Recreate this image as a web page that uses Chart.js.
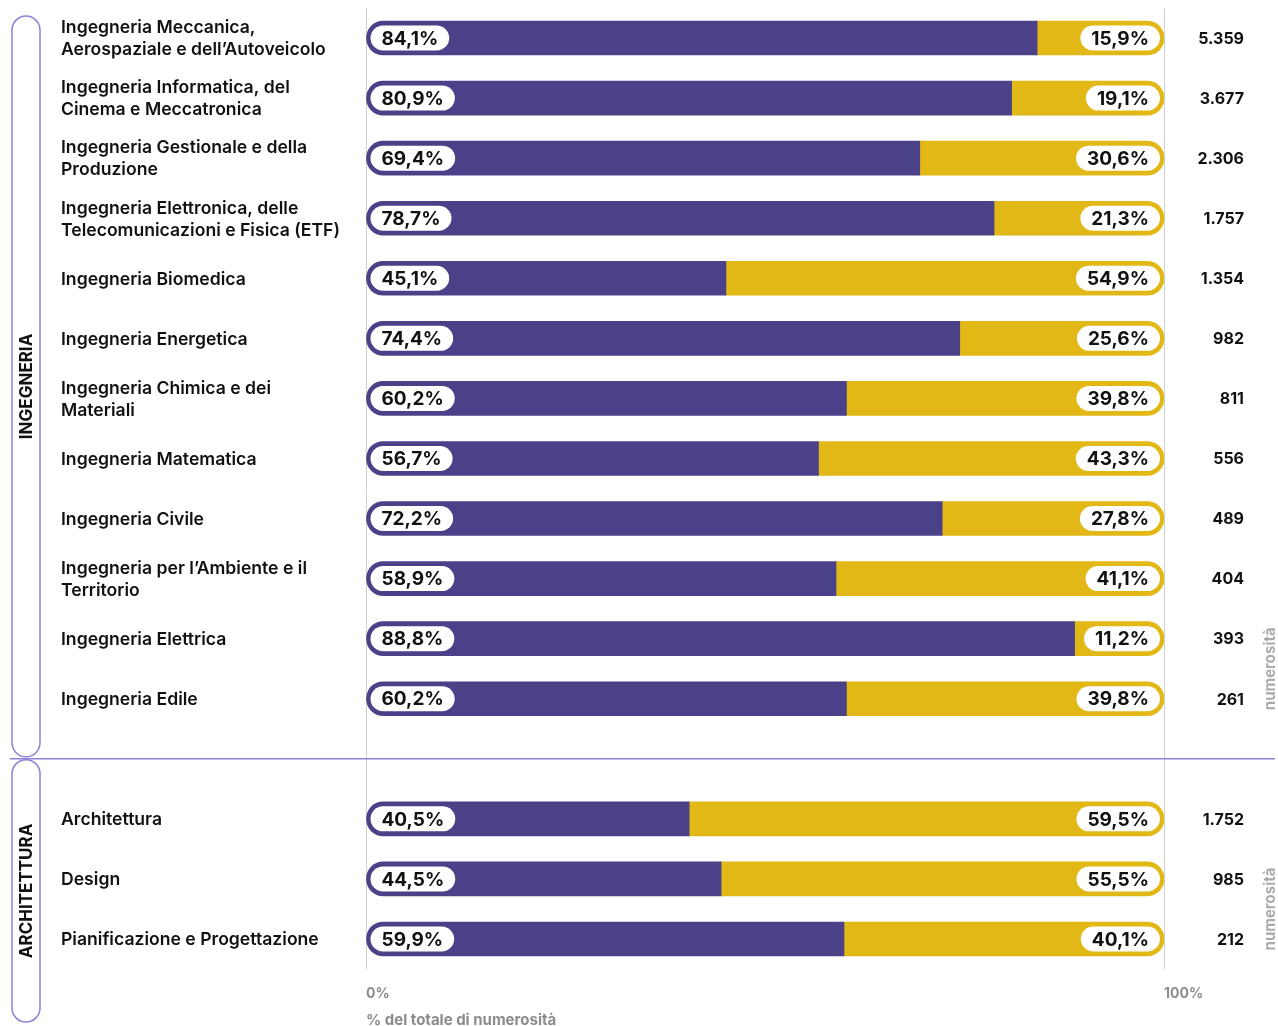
<!DOCTYPE html>
<html lang="it">
<head>
<meta charset="utf-8">
<script src="https://cdn.jsdelivr.net/npm/chart.js@4.4.1/dist/chart.umd.min.js"></script>
<style>
  html, body { margin: 0; padding: 0; background: #fff; }
  #wrap { width: 1278px; height: 1026px; position: relative; }
</style>
</head>
<body>
<div id="wrap"><canvas id="chart"></canvas></div>
<script>
// categories (the empty one separates the two schools)
const categories = [
    ['Ingegneria Meccanica,', 'Aerospaziale e dell’Autoveicolo'],
    ['Ingegneria Informatica, del', 'Cinema e Meccatronica'],
    ['Ingegneria Gestionale e della', 'Produzione'],
    ['Ingegneria Elettronica, delle', 'Telecomunicazioni e Fisica (ETF)'],
    'Ingegneria Biomedica',
    'Ingegneria Energetica',
    ['Ingegneria Chimica e dei', 'Materiali'],
    'Ingegneria Matematica',
    'Ingegneria Civile',
    ['Ingegneria per l’Ambiente e il', 'Territorio'],
    'Ingegneria Elettrica',
    'Ingegneria Edile',
    '',
    'Architettura',
    'Design',
    'Pianificazione e Progettazione'
];
const sharePurple = [84.1, 80.9, 69.4, 78.7, 45.1, 74.4, 60.2, 56.7, 72.2, 58.9, 88.8, 60.2, null, 40.5, 44.5, 59.9];
const shareYellow = [15.9, 19.1, 30.6, 21.3, 54.9, 25.6, 39.8, 43.3, 27.8, 41.1, 11.2, 39.8, null, 59.5, 55.5, 40.1];
const counts = [5359, 3677, 2306, 1757, 1354, 982, 811, 556, 489, 404, 393, 261, null, 1752, 985, 212];
const groupNames = ['INGEGNERIA', 'ARCHITETTURA'];
const groupRows = [[0, 11], [13, 15]];
const xTicks = [0, 100];

const PURPLE = '#4a4189';
const YELLOW = '#e2b816';
const LAVENDER = '#8c82d8';
const FONT = 'Inter, "Noto Sans", sans-serif';

function pct(v) { return v.toFixed(1).replace('.', ',') + '%'; }
function thousands(v) { return String(v).replace(/\B(?=(\d{3})+(?!\d))/g, '.'); }

function roundRect(ctx, x, y, w, h, r) {
    ctx.beginPath();
    ctx.moveTo(x + r, y);
    ctx.lineTo(x + w - r, y);
    ctx.arc(x + w - r, y + r, r, -Math.PI / 2, 0);
    ctx.lineTo(x + w, y + h - r);
    ctx.arc(x + w - r, y + h - r, r, 0, Math.PI / 2);
    ctx.lineTo(x + r, y + h);
    ctx.arc(x + r, y + h - r, r, Math.PI / 2, Math.PI);
    ctx.lineTo(x, y + r);
    ctx.arc(x + r, y + r, r, Math.PI, Math.PI * 1.5);
    ctx.closePath();
}

// white pills with the percentages
const pillPlugin = {
    id: 'pills',
    afterDatasetsDraw(chart) {
        const ctx = chart.ctx;
        const left = chart.getDatasetMeta(0).data;
        const right = chart.getDatasetMeta(1).data;
        ctx.save();
        ctx.font = '700 19px ' + FONT;
        ctx.textBaseline = 'middle';
        ctx.textAlign = 'center';
        categories.forEach((c, i) => {
            if (sharePurple[i] == null) return;
            const h = 25;
            const a = left[i], b = right[i];
            const t1 = pct(sharePurple[i]), t2 = pct(shareYellow[i]);
            const w1 = ctx.measureText(t1).width + 22;
            const w2 = ctx.measureText(t2).width + 22;
            const x1 = a.base + 4;
            const x2 = b.x - 4 - w2;
            ctx.fillStyle = '#fff';
            roundRect(ctx, x1, a.y - h / 2, w1, h, h / 2);
            ctx.fill();
            roundRect(ctx, x2, b.y - h / 2, w2, h, h / 2);
            ctx.fill();
            ctx.fillStyle = '#111';
            ctx.fillText(t1, x1 + w1 / 2, a.y + 1);
            ctx.fillText(t2, x2 + w2 / 2, b.y + 1);
        });
        ctx.restore();
    },
    afterDraw(chart) {
        const ctx = chart.ctx;
        const y = chart.scales.y;
        const W = chart.width, H = chart.height;
        ctx.save();

        // category labels and counts
        ctx.fillStyle = '#111';
        ctx.textBaseline = 'middle';
        categories.forEach((c, i) => {
            if (counts[i] == null) return;
            const cy = y.getPixelForValue(i);
            const lines = Array.isArray(c) ? c : [c];
            ctx.font = '600 17.6px ' + FONT;
            ctx.textAlign = 'left';
            lines.forEach((l, k) => {
                ctx.fillText(l, 61, cy + (k - (lines.length - 1) / 2) * 22 + 1);
            });
            ctx.font = '700 16px ' + FONT;
            ctx.textAlign = 'right';
            ctx.fillText(thousands(counts[i]), 1244, cy + 1);
        });

        // separator between groups
        const sepY = y.getPixelForValue(12);
        ctx.strokeStyle = LAVENDER;
        ctx.lineWidth = 1.5;
        ctx.beginPath();
        ctx.moveTo(10, sepY);
        ctx.lineTo(W - 3, sepY);
        ctx.stroke();

        // group brackets with rotated names
        const spans = [
            [y.getPixelForValue(groupRows[0][0]) - 22, sepY - 2],
            [sepY + 1, H - 4]
        ];
        groupNames.forEach((name, g) => {
            const [y0, y1] = spans[g];
            ctx.strokeStyle = LAVENDER;
            ctx.lineWidth = 1.5;
            roundRect(ctx, 12, y0, 28, y1 - y0, 14);
            ctx.stroke();
            ctx.save();
            ctx.translate(27, (y0 + y1) / 2);
            ctx.rotate(-Math.PI / 2);
            ctx.fillStyle = '#111';
            ctx.font = '700 17px ' + FONT;
            ctx.textAlign = 'center';
            ctx.textBaseline = 'middle';
            ctx.fillText(name, 0, 0);
            ctx.restore();

            // "numerosità" on the right
            const r1 = groupRows[g][1];
            const ny = (y.getPixelForValue(r1 - 1) + y.getPixelForValue(r1)) / 2;
            ctx.save();
            ctx.translate(1270, ny);
            ctx.rotate(-Math.PI / 2);
            ctx.fillStyle = '#ababab';
            ctx.font = '700 15px ' + FONT;
            ctx.textAlign = 'center';
            ctx.textBaseline = 'middle';
            ctx.fillText('numerosità', 0, 0);
            ctx.restore();
        });
        ctx.restore();
    }
};

new Chart(document.getElementById('chart'), {
    type: 'bar',
    data: {
        labels: categories,
        datasets: [
            {
                data: sharePurple,
                backgroundColor: PURPLE,
                borderSkipped: false,
                borderRadius: { topLeft: 17, bottomLeft: 17, topRight: 0, bottomRight: 0 },
                barThickness: 34
            },
            {
                data: shareYellow,
                backgroundColor: YELLOW,
                borderSkipped: false,
                borderRadius: { topLeft: 0, bottomLeft: 0, topRight: 17, bottomRight: 17 },
                barThickness: 34
            }
        ]
    },
    options: {
        indexAxis: 'y',
        responsive: true,
        maintainAspectRatio: false,
        animation: false,
        layout: { padding: { left: 366, right: 114, top: 8, bottom: 0 } },
        plugins: { legend: { display: false }, tooltip: { enabled: false } },
        scales: {
            y: { stacked: true, display: false },
            x: {
                stacked: true,
                min: 0,
                max: 100,
                afterBuildTicks: s => { s.ticks = xTicks.map(v => ({ value: v })); },
                afterFit: s => { s.height = 57; },
                border: { display: false },
                grid: { color: '#cfcfcf', lineWidth: 1, drawTicks: false },
                ticks: {
                    align: 'start',
                    padding: 16,
                    color: '#8c8c8c',
                    font: { family: FONT, weight: '700', size: 14 },
                    callback: v => v + '%'
                },
                title: {
                    display: true,
                    align: 'start',
                    text: '% del totale di numerosità',
                    color: '#8c8c8c',
                    font: { family: FONT, weight: '700', size: 15 },
                    padding: { top: 0, bottom: -3 }
                }
            }
        }
    },
    plugins: [pillPlugin]
});
</script>
</body>
</html>
